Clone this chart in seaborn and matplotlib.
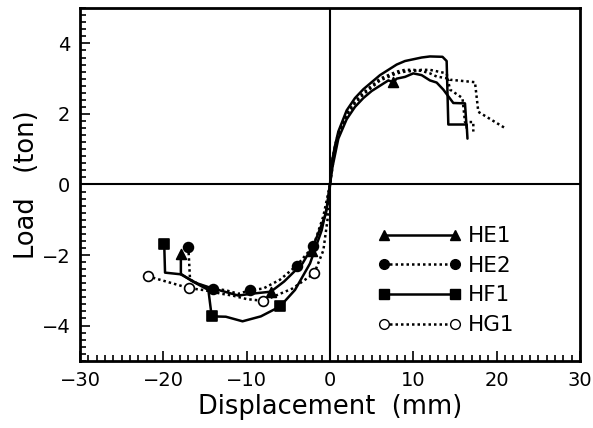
import matplotlib
matplotlib.use("Agg")
import matplotlib.pyplot as plt
from matplotlib.lines import Line2D
from matplotlib.ticker import MultipleLocator
import seaborn as sns

# ---- data (displacement mm, load ton) ----
he1_x = [-17.9, -17.9, -16.0, -14.2, -12.5, -11.0, -9.5, -7.1, -5.5, -3.3, -1.9, -0.5, 0,
         0.3, 1.0, 2.0, 3.0, 4.0, 5.0, 6.0, 7.0, 7.6, 8.0, 9.0, 10.0, 11.0, 12.0, 12.8,
         13.6, 14.8, 16.2, 16.4]
he1_y = [-1.96, -2.55, -2.8, -2.94, -3.05, -3.15, -3.1, -3.04, -2.75, -2.24, -1.68, -0.84, 0,
         0.5, 1.3, 1.85, 2.2, 2.45, 2.65, 2.8, 2.95, 2.9, 3.0, 3.05, 3.15, 3.1, 2.95, 2.89,
         2.69, 2.31, 2.3, 1.6]

he2_x = [-17.0, -16.8, -15.1, -14.0, -12.5, -11.0, -9.6, -8.0, -6.0, -4.0, -2.0, -0.8, 0,
         0.2, 0.6, 1.0, 2.0, 3.0, 4.0, 5.0, 6.0, 7.0, 8.0, 9.0, 10.0, 11.0, 12.0, 12.8,
         14.3, 14.4, 17.4, 17.8, 21.0]
he2_y = [-1.78, -2.7, -2.9, -2.95, -3.0, -3.1, -3.0, -2.95, -2.7, -2.3, -1.75, -0.9, 0,
         0.6, 1.1, 1.45, 2.0, 2.35, 2.6, 2.8, 3.0, 3.1, 3.2, 3.25, 3.25, 3.22, 3.15, 3.06,
         3.0, 2.97, 2.9, 2.06, 1.6]

hf1_x = [-19.9, -19.8, -17.8, -16.5, -14.6, -14.2, -12.5, -10.5, -8.3, -6.0, -4.2, -2.4, -1.0, -0.3, 0,
         0.2, 0.6, 1.0, 2.0, 3.0, 4.0, 5.0, 6.0, 7.0, 8.0, 9.0, 10.0, 11.0, 12.0, 13.5,
         14.0, 14.2, 16.4, 16.5]
hf1_y = [-1.68, -2.5, -2.55, -2.75, -2.99, -3.74, -3.75, -3.88, -3.74, -3.46, -2.99, -2.24, -1.3, -0.56, 0,
         0.6, 1.1, 1.5, 2.1, 2.45, 2.7, 2.9, 3.1, 3.25, 3.4, 3.5, 3.55, 3.6, 3.63, 3.62,
         3.5, 1.7, 1.7, 1.3]

hg1_x = [-21.9, -16.9, -15.0, -13.0, -11.7, -10.0, -8.0, -6.5, -4.5, -1.9, -0.8, -0.3, 0,
         0.3, 0.6, 1.0, 2.0, 3.0, 4.0, 5.0, 6.0, 7.0, 8.0, 9.0, 10.0, 11.0, 12.0, 13.0,
         14.0, 14.4, 15.9, 16.2, 17.2, 17.2]
hg1_y = [-2.6, -2.94, -3.0, -3.1, -3.15, -3.25, -3.3, -3.15, -2.95, -2.52, -1.87, -1.0, 0,
         0.5, 1.0, 1.4, 1.95, 2.3, 2.55, 2.75, 2.95, 3.05, 3.15, 3.2, 3.22, 3.25, 3.25, 3.2,
         3.15, 2.69, 2.45, 1.77, 1.77, 1.5]

# marker positions along each curve
he1_mx = [-17.9, -7.1, -2.2, 7.6]
he1_my = [-1.96, -3.04, -1.9, 2.9]
he2_mx = [-17.0, -14.0, -9.6, -4.0, -2.0]
he2_my = [-1.78, -2.95, -3.0, -2.3, -1.75]
hf1_mx = [-19.9, -14.2, -6.0]
hf1_my = [-1.68, -3.74, -3.46]
hg1_mx = [-21.9, -16.9, -8.0, -1.9]
hg1_my = [-2.6, -2.94, -3.3, -2.52]

labels = ["HE1", "HE2", "HF1", "HG1"]

sns.set_style("white")
plt.rcParams['font.family'] = ['DejaVu Sans']
plt.rcParams.update({"text.color": "black", "axes.labelcolor": "black",
                     "xtick.color": "black", "ytick.color": "black"})

fig = plt.figure(figsize=(5.93, 4.28), dpi=100)
ax = fig.add_axes([0.135, 0.157, 0.843, 0.824])

dotted = (0, (1, 1.2))
series = [
    (he1_x, he1_y, he1_mx, he1_my, "-", "^", "black"),
    (he2_x, he2_y, he2_mx, he2_my, dotted, "o", "black"),
    (hf1_x, hf1_y, hf1_mx, hf1_my, "-", "s", "black"),
    (hg1_x, hg1_y, hg1_mx, hg1_my, dotted, "o", "white"),
]

for x, y, mx, my, ls, mk, fc in series:
    sns.lineplot(x=x, y=y, sort=False, estimator=None, ax=ax,
                 color="black", linewidth=1.8, linestyle=ls)
    sns.scatterplot(x=mx, y=my, ax=ax, marker=mk, s=50, color=fc,
                    edgecolor="black", linewidth=1.2, zorder=5)

ax.axhline(0, color="black", lw=1.5, zorder=1)
ax.axvline(0, color="black", lw=1.5, zorder=1)

ax.set_xlim(-30, 30)
ax.set_ylim(-5, 5)
ax.xaxis.set_major_locator(MultipleLocator(10))
ax.xaxis.set_minor_locator(MultipleLocator(1))
ax.yaxis.set_major_locator(MultipleLocator(2))
ax.yaxis.set_minor_locator(MultipleLocator(0.2))
ax.tick_params(which="both", direction="in", top=False, right=False, bottom=True, left=True,
               width=1.2, color="black")
ax.tick_params(which="major", length=7, labelsize=14, pad=7)
ax.tick_params(which="minor", length=4)

for sp in ax.spines.values():
    sp.set_linewidth(2)
    sp.set_color("black")

ax.set_xlabel("Displacement  (mm)", fontsize=18.5, labelpad=3)
ax.set_ylabel("Load   (ton)", fontsize=18.5, labelpad=1)

handles = [
    Line2D([], [], color="black", lw=1.8, ls="-", marker="^", markersize=7),
    Line2D([], [], color="black", lw=1.8, ls=dotted, marker="o", markersize=7),
    Line2D([], [], color="black", lw=1.8, ls="-", marker="s", markersize=7),
    Line2D([], [], color="black", lw=1.8, ls=dotted, marker="o", markersize=7,
           markerfacecolor="white"),
]
ax.legend(handles, labels, loc="upper left", bbox_to_anchor=(0.556, 0.437), frameon=False,
          numpoints=2, handlelength=3.9, handletextpad=0.3, labelspacing=0.45, fontsize=15.5)

fig.savefig("out.png", dpi=100)
